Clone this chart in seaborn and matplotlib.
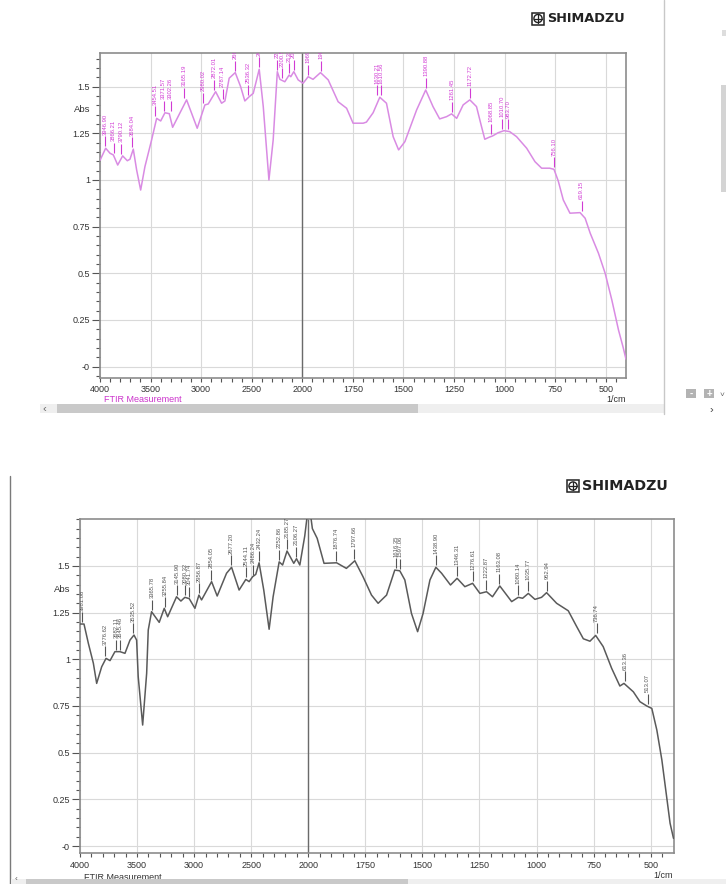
import numpy as np
import pandas as pd
import seaborn as sns
import matplotlib
matplotlib.use("Agg")
import matplotlib.pyplot as plt
from matplotlib.path import Path
from matplotlib.patches import Rectangle, Circle
from matplotlib.lines import Line2D
from matplotlib.ticker import FixedLocator

# ---------------- data ----------------
top_wn = [4000, 3944, 3901, 3868, 3825, 3776, 3730, 3704, 3671, 3638, 3598, 3556, 3490, 3440, 3400,
          3358, 3315, 3282, 3144, 3039, 2963, 2930, 2857, 2798, 2765, 2723, 2663, 2610, 2568, 2525,
          2485, 2426, 2386, 2330, 2288, 2247, 2222, 2173, 2130, 2114, 2084, 2041, 1996, 1971, 1947,
          1910, 1872, 1823, 1781, 1749, 1699, 1683, 1650, 1617, 1584, 1551, 1524, 1493, 1435, 1390,
          1354, 1321, 1287, 1262, 1237, 1205, 1172, 1139, 1114, 1098, 1076, 1059, 1032, 1003, 975,
          941, 891, 850, 817, 777, 756, 735, 710, 677, 627, 602, 577, 536, 503, 470, 437, 415, 400]
top_abs = [1.105, 1.170, 1.143, 1.134, 1.080, 1.129, 1.103, 1.111, 1.165, 1.054, 0.946, 1.071, 1.214, 1.330, 1.316,
           1.360, 1.355, 1.282, 1.429, 1.277, 1.402, 1.407, 1.473, 1.411, 1.423, 1.545, 1.575, 1.500, 1.423, 1.446,
           1.464, 1.593, 1.393, 1.000, 1.214, 1.580, 1.539, 1.526, 1.562, 1.553, 1.580, 1.536, 1.518, 1.553, 1.539,
           1.575, 1.536, 1.419, 1.384, 1.304, 1.304, 1.310, 1.360, 1.443, 1.411, 1.232, 1.161, 1.205, 1.375, 1.482,
           1.393, 1.327, 1.339, 1.354, 1.330, 1.402, 1.429, 1.393, 1.285, 1.218, 1.229, 1.236, 1.253, 1.264, 1.259,
           1.232, 1.170, 1.098, 1.063, 1.063, 1.057, 0.995, 0.893, 0.822, 0.825, 0.795, 0.715, 0.607, 0.500, 0.357,
           0.196, 0.107, 0.040]

top_peak_labels = ["3946.90", "3866.21", "3790.12", "3684.04", "3454.51", "3371.57", "3302.26", "3165.19",
                   "2980.02", "2872.01", "2787.14", "2663.52", "2536.32", "2426.81", "2247.08", "2200.51",
                   "2133.23", "2085.06", "1969.67", "1909.88", "1630.21", "1610.56", "1390.88", "1261.45",
                   "1172.72", "1068.85", "1010.70", "983.70", "756.10", "619.15"]
top_peak_abs = [1.170, 1.134, 1.129, 1.165, 1.330, 1.360, 1.360, 1.429,
                1.402, 1.473, 1.423, 1.575, 1.446, 1.593, 1.580, 1.535,
                1.562, 1.580, 1.553, 1.575, 1.443, 1.443, 1.482, 1.354,
                1.429, 1.236, 1.264, 1.262, 1.057, 0.825]

bot_wn = [4000, 3965, 3927, 3883, 3854, 3810, 3772, 3737, 3694, 3650, 3606, 3562, 3527, 3504, 3490,
          3451, 3416, 3402, 3373, 3306, 3262, 3232, 3154, 3116, 3081, 3043, 2993, 2958, 2935, 2847,
          2798, 2716, 2672, 2606, 2547, 2518, 2488, 2460, 2431, 2390, 2343, 2308, 2255, 2225, 2186,
          2127, 2103, 2074, 2031, 2007, 1995, 1982, 1961, 1931, 1876, 1833, 1796, 1760, 1723, 1694,
          1657, 1621, 1599, 1577, 1548, 1521, 1497, 1467, 1441, 1416, 1377, 1348, 1314, 1280, 1248,
          1219, 1193, 1161, 1109, 1080, 1061, 1036, 1007, 978, 956, 912, 861, 824, 795, 766,
          741, 708, 671, 635, 617, 576, 547, 517, 495, 473, 451, 432, 415, 400]
bot_abs = [1.189, 1.189, 1.086, 0.979, 0.871, 0.960, 1.005, 0.993, 1.041, 1.041, 1.032, 1.103, 1.130, 1.103, 0.907,
           0.648, 0.925, 1.157, 1.255, 1.198, 1.273, 1.228, 1.335, 1.312, 1.332, 1.325, 1.273, 1.344, 1.318, 1.416,
           1.339, 1.461, 1.493, 1.371, 1.428, 1.416, 1.442, 1.455, 1.517, 1.371, 1.161, 1.335, 1.522, 1.505, 1.580,
           1.514, 1.539, 1.505, 1.660, 1.780, 1.820, 1.700, 1.648, 1.514, 1.517, 1.487, 1.528, 1.442, 1.344, 1.300,
           1.344, 1.478, 1.474, 1.425, 1.246, 1.148, 1.246, 1.425, 1.493, 1.461, 1.398, 1.434, 1.389, 1.407, 1.353,
           1.362, 1.335, 1.393, 1.309, 1.332, 1.327, 1.353, 1.321, 1.332, 1.357, 1.300, 1.260, 1.175, 1.110, 1.097,
           1.128, 1.068, 0.952, 0.857, 0.871, 0.826, 0.773, 0.750, 0.737, 0.621, 0.461, 0.282, 0.122, 0.041]

bot_peak_labels = ["3981.08", "3776.62", "3682.11", "3645.46", "3535.52", "3365.78", "3255.84", "3145.90",
                   "3080.32", "3041.74", "2956.87", "2854.05", "2677.20", "2544.11", "2486.24", "2432.24",
                   "2252.86", "2185.27", "2106.27", "2004.35", "1876.74", "1797.66", "1616.35", "1597.06",
                   "1438.90", "1346.31", "1276.61", "1222.87", "1163.08", "1080.14", "1035.77", "952.94",
                   "736.74", "613.36", "513.07"]
bot_peak_abs = [1.189, 1.005, 1.041, 1.041, 1.130, 1.255, 1.268, 1.332,
                1.332, 1.325, 1.344, 1.416, 1.493, 1.428, 1.442, 1.517,
                1.522, 1.580, 1.539, 1.800, 1.517, 1.528, 1.478, 1.474,
                1.493, 1.434, 1.407, 1.362, 1.393, 1.332, 1.353, 1.357,
                1.130, 0.871, 0.750]

xtick_vals = [4000, 3500, 3000, 2500, 2000, 1750, 1500, 1250, 1000, 750, 500]
xtick_labels = ["4000", "3500", "3000", "2500", "2000", "1750", "1500", "1250", "1000", "750", "500"]
ytick_vals = [0, 0.25, 0.5, 0.75, 1.0, 1.25, 1.5]
ytick_labels = ["-0", "0.25", "0.5", "0.75", "1", "1.25", "1.5"]

# ---------------- style ----------------
sns.set_style("white")
plt.rcParams['font.family'] = ['Liberation Sans', 'DejaVu Sans']

W, H = 726, 884
fig = plt.figure(figsize=(W / 100, H / 100), dpi=100)


def fwd(w):
    w = np.asarray(w, dtype=float)
    return np.where(w >= 2000, 1000 + (w - 2000) / 2.0, w - 1000)


def inv(u):
    u = np.asarray(u, dtype=float)
    return np.where(u >= 1000, 2000 + 2.0 * (u - 1000), u + 1000)


tick_marker = Path([(0, 0.2), (0, 1.0)], [Path.MOVETO, Path.LINETO])


def px_rect(l, t, r, b):
    return [l / W, 1 - b / H, (r - l) / W, (b - t) / H]


def draw_panel(ax, wn, ab, color, labels, pabs, lab_color, ylim, lw):
    df = pd.DataFrame({"wn": wn, "abs": ab})
    sns.lineplot(data=df, x="wn", y="abs", ax=ax, color=color, lw=lw,
                 sort=False, estimator=None, zorder=3)
    ax.set_xscale("function", functions=(fwd, inv))
    ax.set_xlim(4000, 400)
    ax.set_ylim(*ylim)
    ax.set_xlabel("")
    ax.set_ylabel("")

    ax.xaxis.set_major_locator(FixedLocator(xtick_vals))
    ax.set_xticklabels(xtick_labels)
    ax.xaxis.set_minor_locator(FixedLocator(list(np.arange(3900, 2000, -100)) + list(np.arange(1950, 400, -50))))
    ax.yaxis.set_major_locator(FixedLocator(ytick_vals))
    ax.set_yticklabels(ytick_labels)
    ax.yaxis.set_minor_locator(FixedLocator(np.arange(-0.05, 1.76, 0.05)))

    ax.tick_params(axis="both", which="both", direction="out", colors="#555555",
                   labelcolor="#333333", labelsize=6.5, width=0.8)
    ax.tick_params(axis="y", which="major", length=5.8, pad=1.5, left=True)
    ax.tick_params(axis="y", which="minor", length=3.0, left=True)
    ax.tick_params(axis="x", which="major", length=3.2, pad=2.5, bottom=True)
    ax.tick_params(axis="x", which="minor", length=3.2, bottom=True)

    ax.grid(True, which="major", color="#d9d9d9", lw=0.8, zorder=0)
    ax.axvline(2000, color="#6a6a6a", lw=1.0, zorder=1)
    for s in ax.spines.values():
        s.set_visible(True)
        s.set_color("#8c8c8c")
        s.set_linewidth(1.2)

    px = [float(t) for t in labels]
    ax.plot(px, pabs, ls="none", marker=tick_marker, ms=18, mec=lab_color,
            mew=0.8, mfc="none", zorder=4)
    for t, x, y in zip(labels, px, pabs):
        ax.annotate(t, xy=(x, y), xytext=(0, 13.5), textcoords="offset pixels",
                    rotation=90, ha="center", va="bottom", fontsize=4.2,
                    color=lab_color, clip_on=True, zorder=4)
    ax.annotate("Abs", xy=(0, 1.375), xycoords=("axes fraction", "data"),
                xytext=(-10, 0), textcoords="offset pixels", ha="right",
                va="center", fontsize=6.8, color="#333333")


# overlay for screenshot decorations
ov = fig.add_axes([0, 0, 1, 1], zorder=-5)
ov.set_xlim(0, W)
ov.set_ylim(H, 0)
ov.axis("off")

ax1 = fig.add_axes(px_rect(100, 53, 626, 377.5))
draw_panel(ax1, top_wn, top_abs, "#d98be3", top_peak_labels, top_peak_abs,
           "#d13bd4", (-0.058, 1.68), 1.1)

ax2 = fig.add_axes(px_rect(80, 519, 673.5, 853.3))
draw_panel(ax2, bot_wn, bot_abs, "#5a5a5a", bot_peak_labels, bot_peak_abs,
           "#555555", (-0.039, 1.7515), 1.1)

# axis captions
ov.text(104, 399, "FTIR Measurement", fontsize=6.5, color="#cc33cc", ha="left", va="center")
ov.text(626, 399, "1/cm", fontsize=6.5, color="#333333", ha="right", va="center")
ov.text(84, 877, "FTIR Measurement", fontsize=6.5, color="#333333", ha="left", va="center")
ov.text(673, 876, "1/cm", fontsize=6.5, color="#333333", ha="right", va="center")


def logo(x, y, size, fs):
    ov.add_patch(Rectangle((x, y), size, size, fill=False, ec="#222222", lw=1.1, zorder=6))
    c = (x + size / 2, y + size / 2)
    ov.add_patch(Circle(c, size * 0.34, fill=False, ec="#222222", lw=1.0, zorder=6))
    ov.add_line(Line2D([c[0] - size * 0.34, c[0] + size * 0.34], [c[1], c[1]], color="#222222", lw=0.9, zorder=6))
    ov.add_line(Line2D([c[0], c[0]], [c[1] - size * 0.34, c[1] + size * 0.34], color="#222222", lw=0.9, zorder=6))
    ov.text(x + size + 3, y + size / 2 + 0.5, "SHIMADZU", family="DejaVu Sans", fontweight="bold",
            fontsize=fs, color="#222222", ha="left", va="center", zorder=6)


logo(532, 12.5, 12, 9.3)
logo(567, 480, 12, 10.3)

# top screenshot chrome
ov.add_line(Line2D([664, 664], [0, 414], color="#c8c8c8", lw=1.0))
ov.add_patch(Rectangle((721, 85), 5, 107, color="#d4d4d4", lw=0))
ov.add_patch(Rectangle((722, 30), 4, 6, color="#dddddd", lw=0))
ov.add_patch(Rectangle((40, 404), 624, 9, color="#efefef", lw=0))
ov.add_patch(Rectangle((57, 404), 361, 9, color="#c9c9c9", lw=0))
ov.text(44, 409, "‹", fontsize=8, color="#666666", ha="center", va="center")
ov.text(711, 410, "›", fontsize=8, color="#444444", ha="center", va="center")
ov.add_patch(Rectangle((686, 389), 10, 9, color="#b3b3b3", lw=0))
ov.add_patch(Rectangle((704, 389), 10, 9, color="#b3b3b3", lw=0))
ov.text(691, 393.5, "-", fontsize=7, color="white", ha="center", va="center", fontweight="bold")
ov.text(709, 393.5, "+", fontsize=7, color="white", ha="center", va="center", fontweight="bold")
ov.text(722, 395, "˅", fontsize=6, color="#666666", ha="center", va="center")

# bottom screenshot chrome
ov.add_line(Line2D([10, 10], [476, 884], color="#7a7a7a", lw=1.0))
ov.add_patch(Rectangle((11, 878.5), 715, 6, color="#efefef", lw=0, zorder=5))
ov.add_patch(Rectangle((26, 878.5), 382, 6, color="#c9c9c9", lw=0, zorder=5))
ov.text(16, 879.5, "‹", fontsize=6, color="#555555", ha="center", va="center", zorder=6)

fig.savefig("out.png", dpi=100, facecolor="white")
